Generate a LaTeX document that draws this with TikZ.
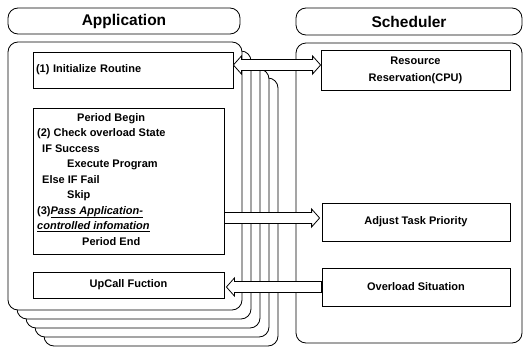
\documentclass[tikz,border=0pt]{standalone}
\usepackage{fontspec}
\setmainfont{Liberation Sans}
\usetikzlibrary{calc}

\tikzset{
  hdr/.style={draw, rounded corners=10pt, line width=0.8pt, font=\bfseries\fontsize{15.5}{18}\selectfont},
  appbox/.style={draw, fill=white, rounded corners=10pt, line width=0.8pt},
  inbox/.style={draw, fill=white, line width=0.8pt, inner sep=3pt, font=\bfseries\fontsize{11}{17}\selectfont},
  txt/.style={inner sep=0pt, anchor=west, text height=8pt, text depth=2pt, font=\bfseries\fontsize{11}{12}\selectfont},
  arr/.style={draw, fill=white, line width=0.8pt},
  rarrow/.style={to path={let \p1=(\tikztostart), \p2=(\tikztotarget) in
    (\x1,\y1+5.5pt) -- (\x2-8pt,\y1+5.5pt) -- (\x2-8pt,\y1+9pt) -- (\x2,\y1)
    -- (\x2-8pt,\y1-9pt) -- (\x2-8pt,\y1-5.5pt) -- (\x1,\y1-5.5pt) -- cycle}},
  larrow/.style={to path={let \p1=(\tikztostart), \p2=(\tikztotarget) in
    (\x1,\y1) -- (\x1+8pt,\y1+9pt) -- (\x1+8pt,\y1+5.5pt) -- (\x2,\y1+5.5pt)
    -- (\x2,\y1-5.5pt) -- (\x1+8pt,\y1-5.5pt) -- (\x1+8pt,\y1-9pt) -- cycle}},
  lrarrow/.style={to path={let \p1=(\tikztostart), \p2=(\tikztotarget) in
    (\x1,\y1) -- (\x1+8pt,\y1+9pt) -- (\x1+8pt,\y1+5.5pt) -- (\x2-8pt,\y1+5.5pt)
    -- (\x2-8pt,\y1+9pt) -- (\x2,\y1) -- (\x2-8pt,\y1-9pt) -- (\x2-8pt,\y1-5.5pt)
    -- (\x1+8pt,\y1-5.5pt) -- (\x1+8pt,\y1-9pt) -- cycle}}
}

\begin{document}
\begin{tikzpicture}[x=1pt, y=-1pt]
  \useasboundingbox (0,0) rectangle (525,351);

  % headers
  \node[hdr, minimum width=232pt, minimum height=26pt] (apphdr) at (124,21) {Application};
  \node[hdr, minimum width=226pt, minimum height=27pt] (schedhdr) at (409,21.5) {Scheduler};

  % stacked application boxes, back to front
  \foreach \k in {4,3,2,1,0}
    \node[appbox, minimum width=234pt, minimum height=268pt] (app\k) at (125+9*\k,176+9*\k) {};

  % scheduler box
  \node[appbox, minimum width=226pt, minimum height=300pt] (sched) at (409,193) {};

  % application side
  \node[inbox, minimum width=200pt, minimum height=36pt, text width=194pt, align=left] (init) at (133,70) {(1) Initialize Routine};
  \node[inbox, minimum width=191pt, minimum height=146pt] (period) at (128.5,181) {};
  \node[inbox, minimum width=191pt, minimum height=26pt] (upcall) at (128.5,285) {UpCall Fuction};

  \node[txt] (pbegin) at (77,118) {Period Begin};
  \node[txt] (check) at (37,133.5) {(2) Check overload State};
  \node[txt] (ifok) at (42,149) {IF Success};
  \node[txt] (exec) at (67,164.5) {Execute Program};
  \node[txt] (iffail) at (42,180) {Else IF Fail};
  \node[txt] (skip) at (67,195.5) {Skip};
  \node[txt] (pass) at (37,211) {(3)\underline{\textit{Pass Application-}}};
  \node[txt] (ctrl) at (37,226.5) {\underline{\textit{controlled infomation}}};
  \node[txt] (pend) at (82,242) {Period End};

  % scheduler side
  \node[inbox, minimum width=189pt, minimum height=40pt, align=center] (res) at (415.5,70) {Resource\\Reservation(CPU)};
  \node[inbox, minimum width=188pt, minimum height=38pt] (adjust) at (416,222) {Adjust Task Priority};
  \node[inbox, minimum width=188pt, minimum height=38pt] (overload) at (416,287) {Overload Situation};

  % block arrows
  \draw[arr] ($(init.east)+(0,-5)$) to[lrarrow] (res.west);
  \draw[arr] ($(period.east |- adjust.west)+(0,-4)$) to[rarrow] ([xshift=-2pt]adjust.west);
  \draw[arr] ([xshift=2pt]upcall.east |- overload.west) to[larrow] (overload.west);

\end{tikzpicture}
\end{document}
